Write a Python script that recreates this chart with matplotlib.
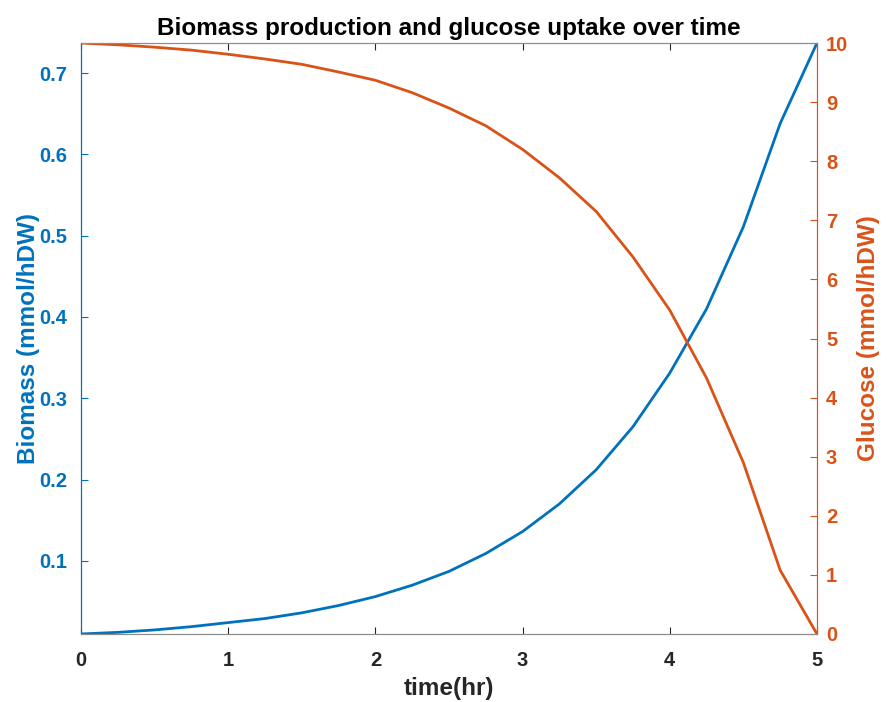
import matplotlib.pyplot as plt

# dFBA output (0.25 h steps)
time_hr = [0, 0.25, 0.5, 0.75, 1, 1.25, 1.5, 1.75, 2, 2.25, 2.5,
           2.75, 3, 3.25, 3.5, 3.75, 4, 4.25, 4.5, 4.75, 5]
biomass = [0.010, 0.012, 0.015, 0.019, 0.024, 0.029, 0.036, 0.045, 0.056, 0.070, 0.087,
           0.109, 0.136, 0.170, 0.212, 0.265, 0.331, 0.410, 0.511, 0.638, 0.737]
glucose = [10.0, 9.97, 9.93, 9.88, 9.81, 9.73, 9.64, 9.51, 9.37, 9.16, 8.90,
           8.60, 8.20, 7.72, 7.15, 6.38, 5.48, 4.33, 2.90, 1.08, 0.0]

BLUE = "#0072BD"
ORANGE = "#D95319"
GRAY = "#262626"

plt.rcParams["font.family"] = ["Liberation Sans", "DejaVu Sans"]
plt.rcParams["font.weight"] = "bold"

fig = plt.figure(figsize=(8.88, 7.02), dpi=100)
ax = fig.add_axes([0.0912, 0.0969, 0.8288, 0.8418])
ax2 = ax.twinx()

ax.plot(time_hr, biomass, color=BLUE, lw=2.0)
ax2.plot(time_hr, glucose, color=ORANGE, lw=2.0)

ax.set_xlim(0, 5)
ax.set_ylim(min(biomass), max(biomass))
ax2.set_ylim(0, 10)
ax.set_xticks(range(6))
ax.set_yticks([0.1, 0.2, 0.3, 0.4, 0.5, 0.6, 0.7])
ax2.set_yticks(range(11))

ax.tick_params(axis="x", direction="in", top=True, colors=GRAY, labelsize=14.5,
               length=5, width=0.8, pad=12.5)
ax.tick_params(axis="y", direction="in", colors=BLUE, labelsize=14.5,
               length=5, width=0.8, pad=10)
ax2.tick_params(axis="y", direction="in", colors=ORANGE, labelsize=14.5,
                length=5, width=0.8, pad=6.5)

for a in (ax, ax2):
    a.spines["top"].set_color("#8c8c8c")
    a.spines["bottom"].set_color("#8c8c8c")
    a.spines["left"].set_color(BLUE)
    a.spines["right"].set_color(ORANGE)
    for s in a.spines.values():
        s.set_linewidth(0.8)

ax.set_xlabel("time(hr)", fontsize=17.5, fontweight="bold", color=GRAY, labelpad=5)
ax.set_ylabel("Biomass (mmol/hDW)", fontsize=17.5, fontweight="bold", color=BLUE, labelpad=-1)
ax2.set_ylabel("Glucose (mmol/hDW)", fontsize=17.5, fontweight="bold", color=ORANGE, labelpad=6)
ax.set_title("Biomass production and glucose uptake over time",
             fontsize=17.5, fontweight="bold", color="black", pad=6)

fig.savefig("out.png", dpi=100)
